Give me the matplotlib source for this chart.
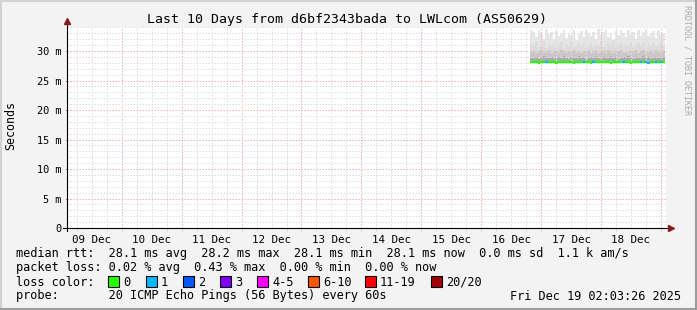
import numpy as np
import matplotlib
matplotlib.use("Agg")
import matplotlib.pyplot as plt
from matplotlib.lines import Line2D
from matplotlib.patches import Rectangle

plt.rcParams["font.family"] = ["DejaVu Sans Mono"]

# ---- data (hours since 09 Dec 00:00, one sample per hour) ----
start_hour = 187.6
day_labels = ["09 Dec", "10 Dec", "11 Dec", "12 Dec", "13 Dec",
              "14 Dec", "15 Dec", "16 Dec", "17 Dec", "18 Dec"]
y_ticks = [0, 5, 10, 15, 20, 25, 30]
y_labels = ["0", "5 m", "10 m", "15 m", "20 m", "25 m", "30 m"]

smoke_top = [33.6, 33.2, 32.4, 33.5, 33.0, 32.1, 33.7, 32.8, 33.3, 31.9,
             33.4, 32.6, 33.0, 33.6, 32.2, 33.1, 32.7, 33.5, 31.8, 32.9,
             33.4, 32.3, 33.6, 33.0, 32.5, 33.3, 32.0, 33.7, 32.8, 33.2,
             33.5, 32.4, 33.0, 31.9, 33.4, 32.7, 33.6, 33.1, 32.3, 33.5,
             32.9, 33.2, 32.0, 33.6, 32.6, 33.3, 33.7, 32.5, 33.0, 33.4,
             32.2, 33.5, 32.8, 33.1]
smoke_upper = [31.2, 30.8, 31.5, 30.6, 31.0, 31.7, 30.5, 31.3, 30.9, 31.4,
               30.7, 31.1, 31.6, 30.4, 31.2, 30.9, 31.5, 30.6, 31.0, 31.3,
               30.8, 31.6, 30.5, 31.1, 31.4, 30.7, 31.2, 30.9, 31.5, 30.6,
               31.0, 31.3, 30.8, 31.7, 30.5, 31.1, 31.4, 30.7, 31.2, 30.9,
               31.6, 30.6, 31.0, 31.3, 30.8, 31.5, 30.5, 31.2, 30.9, 31.4,
               30.7, 31.1, 31.6, 30.8]
smoke_mid = [29.8, 30.0, 29.6, 29.9, 30.1, 29.7, 29.9, 30.2, 29.6, 29.8,
             30.0, 29.7, 30.1, 29.9, 29.6, 30.0, 29.8, 30.2, 29.7, 29.9,
             29.6, 30.0, 29.8, 30.1, 29.7, 29.9, 30.2, 29.6, 29.8, 30.0,
             29.7, 30.1, 29.9, 29.6, 30.0, 29.8, 30.2, 29.7, 29.9, 29.6,
             30.0, 29.8, 30.1, 29.7, 29.9, 30.2, 29.6, 29.8, 30.0, 29.7,
             30.1, 29.9, 29.6, 30.0]
smoke_low = [28.9, 28.8, 29.0, 28.7, 28.9, 29.1, 28.8, 28.9, 29.0, 28.7,
             28.9, 29.0, 28.8, 29.1, 28.9, 28.7, 29.0, 28.8, 28.9, 29.1,
             28.8, 29.0, 28.7, 28.9, 29.0, 28.8, 29.1, 28.9, 28.7, 29.0,
             28.8, 28.9, 29.1, 28.8, 29.0, 28.7, 28.9, 29.0, 28.8, 29.1,
             28.9, 28.7, 29.0, 28.8, 28.9, 29.1, 28.8, 29.0, 28.7, 28.9,
             29.0, 28.8, 28.9, 29.0]
smoke_bottom = [27.9] * 54
median_rtt = [28.2, 28.1, 28.1, 28.0, 28.1, 28.1, 28.1, 28.2, 28.1, 28.1,
              28.0, 28.1, 28.1, 28.1, 28.2, 28.1, 28.1, 28.0, 28.1, 28.1,
              28.1, 28.1, 28.2, 28.1, 28.0, 28.1, 28.1, 28.1, 28.1, 28.2,
              28.1, 28.1, 28.0, 28.1, 28.1, 28.1, 28.2, 28.1, 28.1, 28.1,
              28.0, 28.1, 28.1, 28.1, 28.2, 28.1, 28.1, 28.0, 28.1, 28.1,
              28.1, 28.1, 28.2, 28.1]
loss = [0, 0, 0, 0, 0, 0, 1, 0, 0, 0,
        0, 0, 0, 0, 0, 0, 0, 0, 0, 0,
        0, 1, 0, 0, 0, 1, 0, 0, 0, 0,
        0, 0, 0, 0, 0, 0, 0, 1, 0, 0,
        0, 0, 0, 0, 1, 0, 1, 1, 0, 0,
        1, 0, 1, 0]

loss_names = ["0", "1", "2", "3", "4-5", "6-10", "11-19", "20/20"]
loss_colors = ["#26ff00", "#00b8ff", "#0059ff", "#7e00ff",
               "#ff00ff", "#ff5500", "#ff0000", "#a10000"]

W, H = 697, 310
fx = lambda x: x / W
fy = lambda y: 1 - y / H

fig = plt.figure(figsize=(W / 100, H / 100), dpi=100)
fig.patch.set_facecolor("#f3f3f3")

ax = fig.add_axes([fx(67), fy(228), 599 / W, 201 / H])
ax.set_facecolor("white")
ax.set_xlim(2.05, 242.05)
ax.set_ylim(0, 34.07)

# smoke
n = len(smoke_top)
t = start_hour + np.arange(n + 1)
def ext(a):
    return np.append(a, a[-1])
layers = [(smoke_mid, smoke_upper, "#dcdcdc"), (smoke_upper, smoke_top, "#e6e6e6"),
          (smoke_low, smoke_mid, "#c8c8c8"), (median_rtt, smoke_low, "#aaaaaa"),
          (smoke_bottom, median_rtt, "#b8b8b8")]
for lo, hi, c in layers:
    ax.fill_between(t, ext(lo), ext(hi), step="post", color=c, lw=0, zorder=1)

# grid
for h in range(6, 243, 6):
    if h % 24 == 0:
        ax.axvline(h, color="#f6b0b0", lw=0.72, ls=(0, (1.5, 1.5)), zorder=2)
    else:
        ax.axvline(h, color="#dedede", lw=0.72, ls=(0, (1.5, 1.5)), zorder=2)
for v in range(1, 35):
    if v % 5 == 0:
        ax.axhline(v, color="#f6b0b0", lw=0.72, ls=(0, (1.5, 1.5)), zorder=2)
    else:
        ax.axhline(v, color="#dedede", lw=0.72, ls=(0, (1.5, 1.5)), zorder=2)

# median line coloured by loss
ax.hlines(median_rtt, t[:-1], t[1:], colors=[loss_colors[l] for l in loss],
          lw=1.6, zorder=3)

for s in ["top", "right", "left", "bottom"]:
    ax.spines[s].set_visible(False)

ax.set_xticks([12 + 24 * i for i in range(len(day_labels))])
ax.set_xticklabels(day_labels, fontsize=7.8)
ax.set_xticks(range(6, 243, 6), minor=True)
ax.tick_params(axis="x", which="major", length=0, pad=5)
ax.tick_params(axis="x", which="minor", length=2, direction="out", color="#cccccc")
ax.set_yticks(y_ticks)
ax.set_yticklabels(y_labels, fontsize=7.4)
ax.tick_params(axis="y", length=2, direction="inout", pad=3, width=0.7)

# axis lines with arrows
axis_col = "#000000"
fig.add_artist(Line2D([fx(67), fx(67)], [fy(231), fy(22)], color=axis_col, lw=0.8))
fig.add_artist(Line2D([fx(63), fx(670)], [fy(228), fy(228)], color=axis_col, lw=0.8))
fig.add_artist(Line2D([fx(67)], [fy(21)], marker="^", color="#8b1a1a", ms=4, lw=0))
fig.add_artist(Line2D([fx(671)], [fy(228)], marker=">", color="#8b1a1a", ms=4, lw=0))

# 3D frame
fig.add_artist(Line2D([0, 1], [fy(0.5), fy(0.5)], color="#d2d2d2", lw=1.5))
fig.add_artist(Line2D([fx(0.5), fx(0.5)], [0, 1], color="#d2d2d2", lw=1.5))
fig.add_artist(Line2D([0, 1], [fy(309), fy(309)], color="#9c9c9c", lw=1.5))
fig.add_artist(Line2D([fx(696), fx(696)], [0, 1], color="#9c9c9c", lw=1.5))

# texts
fig.text(fx(347), fy(19), "Last 10 Days from d6bf2343bada to LWLcom (AS50629)",
         ha="center", va="center", fontsize=9.5)
fig.text(fx(11), fy(125), "Seconds", rotation=90, ha="center", va="center", fontsize=8.4)
fig.text(fx(687), fy(5), "RRDTOOL / TOBI OETIKER", rotation=270, ha="center", va="top",
         fontsize=6.0, color="#aaaaaa")

fs = 8.6
fig.text(fx(16), fy(254), "median rtt:  28.1 ms avg  28.2 ms max  28.1 ms min  28.1 ms now  0.0 ms sd  1.1 k am/s",
         ha="left", va="center", fontsize=fs)
fig.text(fx(16), fy(268), "packet loss: 0.02 % avg  0.43 % max  0.00 % min  0.00 % now",
         ha="left", va="center", fontsize=fs)
fig.text(fx(16), fy(282), "loss color:", ha="left", va="center", fontsize=fs)
box_x = [108, 146, 183, 220, 257, 308, 365, 431]
for bx, name, col in zip(box_x, loss_names, loss_colors):
    fig.add_artist(Rectangle((fx(bx), fy(287)), 11 / W, 11 / H, facecolor=col,
                             edgecolor="black", lw=0.8))
    fig.text(fx(bx + 15), fy(282), name, ha="left", va="center", fontsize=fs)
fig.text(fx(16), fy(296), "probe:       20 ICMP Echo Pings (56 Bytes) every 60s",
         ha="left", va="center", fontsize=fs)
fig.text(fx(681), fy(296), "Fri Dec 19 02:03:26 2025", ha="right", va="center", fontsize=fs)

fig.savefig("out.png", dpi=100, facecolor=fig.get_facecolor())
